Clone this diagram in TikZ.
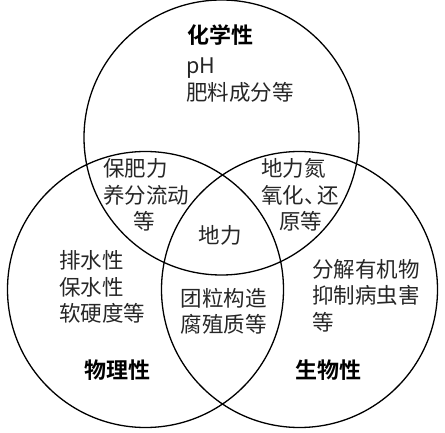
\documentclass[tikz,border=0pt]{standalone}
\usepackage{fontspec}
\newfontfamily\cjk{Noto Sans CJK SC}
\newfontfamily\cjkb{Noto Sans CJK SC Bold}
\tikzset{
  ring/.style={draw=black, line width=1.3pt},
  txt/.style={inner sep=0pt, text=black!85, align=left, font=\cjk\fontsize{21.5}{26.5}\selectfont},
  ttl/.style={inner sep=0pt, text=black, font=\cjkb\fontsize{22}{26}\selectfont},
}
\begin{document}
\begin{tikzpicture}[x=1pt,y=-1pt]
\useasboundingbox (0,0) rectangle (445,433);
\draw[ring] (221.5,137.5) circle[radius=137.5];
\draw[ring] (145.5,289.5) circle[radius=138];
\draw[ring] (299.5,289.5) circle[radius=138];
\node[ttl] (chem) at (220,35) {化学性};
\node[txt, anchor=west] (chemt) at (186,80) {pH\\肥料成分等};
\node[txt, anchor=west] (cp) at (103,195) {保肥力\\养分流动\\\hspace*{1.4em}等};
\node[txt, anchor=west] (cb) at (261,195) {地力氮\\氧化\makebox[0.6em][l]{、}还\\\hspace*{0.85em}原等};
\node[txt] (core) at (220,235) {地力};
\node[txt, anchor=west] (phys) at (59,287) {排水性\\保水性\\软硬度等};
\node[txt, align=center] (pb) at (223.5,311.5) {团粒构造\\腐殖质等};
\node[txt, anchor=west] (bio) at (312,295.5) {分解有机物\\抑制病虫害\\等};
\node[ttl] (physt) at (117.5,370) {物理性};
\node[ttl] (biot) at (328.5,370) {生物性};
\end{tikzpicture}
\end{document}
